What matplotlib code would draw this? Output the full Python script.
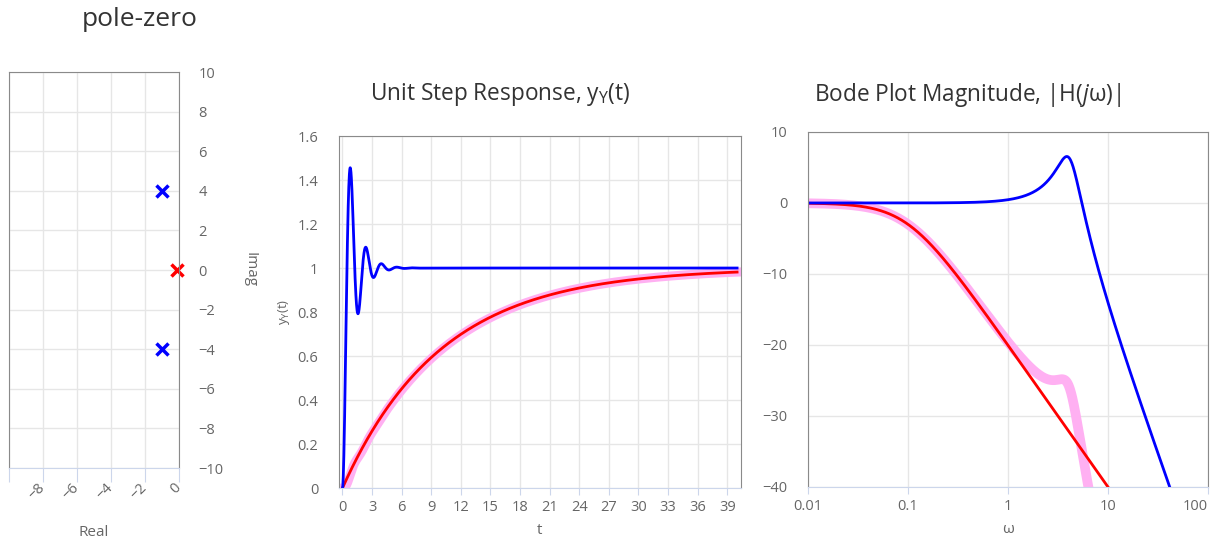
import matplotlib.pyplot as plt
import numpy as np

plt.rcParams["font.family"] = ["Open Sans", "DejaVu Sans"]
plt.rcParams["mathtext.fontset"] = "custom"
plt.rcParams["mathtext.rm"] = "Open Sans"
plt.rcParams["mathtext.it"] = "Open Sans:italic"

# poles of the two blocks (no zeros)
blue_poles = [-1 + 4j, -1 - 4j]
red_poles = [-0.1 + 0j]
pink_poles = blue_poles + red_poles  # cascade of both blocks

t_ticks = [0, 3, 6, 9, 12, 15, 18, 21, 24, 27, 30, 33, 36, 39]
step_yticks = [0, 0.2, 0.4, 0.6, 0.8, 1, 1.2, 1.4, 1.6]
step_ylabels = ["0", "0.2", "0.4", "0.6", "0.8", "1", "1.2", "1.4", "1.6"]
bode_xticks = [0.01, 0.1, 1, 10, 100]
bode_xlabels = ["0.01", "0.1", "1", "10", "100"]
bode_yticks = [-40, -30, -20, -10, 0, 10]
pz_xticks = [-10, -8, -6, -4, -2, 0]
pz_yticks = [-10, -8, -6, -4, -2, 0, 2, 4, 6, 8, 10]

BLUE = "#0000ff"
RED = "#ff0000"
PINK = "#ffb0f2"
GRID = "#e6e6e6"
LABEL = "#666666"
AXLINE = "#ccd6eb"
TITLE = "#333333"
TICK_FS = 10.5


def step_response(poles, t):
    """Unit-DC-gain all-pole system, step response by residues."""
    p = np.array(poles, dtype=complex)
    k = np.prod(-p)
    y = np.ones_like(t, dtype=complex)
    for i, pi in enumerate(p):
        others = np.delete(p, i)
        r = k / (pi * np.prod(pi - others))
        y += r * np.exp(pi * t)
    return y.real


def mag_db(poles, w):
    p = np.array(poles, dtype=complex)
    k = np.prod(-p)
    h = k / np.prod([1j * w - pi for pi in p], axis=0)
    return 20 * np.log10(np.abs(h))


def minus(v):
    return str(v).replace("-", "\u2212")


t = np.linspace(0, 40, 2000)
w = np.logspace(-2, 2, 1000)

fig = plt.figure(figsize=(12.16, 5.42), dpi=100)


def style(ax, tick_len=5):
    ax.grid(True, color=GRID, linewidth=1)
    ax.set_axisbelow(True)
    for s in ("left", "right", "top"):
        ax.spines[s].set_color("#8a8a8a")
    ax.spines["bottom"].set_color(AXLINE)
    ax.tick_params(axis="x", colors=LABEL, color=AXLINE, length=tick_len,
                   labelsize=TICK_FS)
    ax.tick_params(axis="y", colors=LABEL, length=0, labelsize=TICK_FS)


# pole-zero map
ax0 = fig.add_axes([0.0074, 0.1365, 0.1398, 0.7306])
style(ax0, tick_len=10)
ax0.plot([p.real for p in blue_poles], [p.imag for p in blue_poles], "x",
         color=BLUE, ms=9, mew=2.5)
ax0.plot([p.real for p in red_poles], [p.imag for p in red_poles], "x",
         color=RED, ms=9, mew=2.5, clip_on=False)
ax0.set_xlim(-10, 0)
ax0.set_ylim(-10, 10)
ax0.set_xticks(pz_xticks)
ax0.set_xticklabels([""] + [minus(v) for v in pz_xticks[1:]], rotation=45,
                    ha="right", va="center", rotation_mode="anchor")
ax0.tick_params(axis="x", pad=3)
ax0.set_yticks(pz_yticks)
ax0.set_yticklabels([minus(v) for v in pz_yticks])
ax0.yaxis.tick_right()
ax0.tick_params(axis="y", pad=14)
ax0.set_xlabel("Real", color=LABEL, fontsize=11, labelpad=16)
fig.text(250 / 1216, 1 - 270 / 542, "Imag", color=LABEL, fontsize=11,
         rotation=-90, ha="center", va="center")
fig.text(140 / 1216, 1 - 20 / 542, "pole-zero", fontsize=19, color=TITLE,
         ha="center", va="center")

# step response
ax1 = fig.add_axes([0.2788, 0.0996, 0.3306, 0.6494])
style(ax1)
ax1.plot(t, step_response(pink_poles, t), color=PINK, lw=6.5)
ax1.plot(t, step_response(red_poles, t), color=RED, lw=2)
ax1.plot(t, step_response(blue_poles, t), color=BLUE, lw=2)
ax1.set_xlim(-0.35, 40.4)
ax1.set_ylim(0, 1.6)
ax1.set_xticks(t_ticks)
ax1.set_yticks(step_yticks)
ax1.set_yticklabels(step_ylabels)
ax1.tick_params(axis="y", pad=15)
ax1.set_xlabel("t", color=LABEL, fontsize=11, labelpad=6)
ax1.set_ylabel(r"$\mathrm{y_Y}$(t)", color=LABEL, fontsize=9.5, labelpad=4)
fig.text(500 / 1216, 1 - 95 / 542, r"Unit Step Response, $\mathrm{y_Y}$(t)",
         fontsize=16.3, color=TITLE, ha="center", va="center")

# bode magnitude
ax2 = fig.add_axes([0.6645, 0.1015, 0.3289, 0.655])
style(ax2)
ax2.semilogx(w, mag_db(pink_poles, w), color=PINK, lw=7)
ax2.semilogx(w, mag_db(red_poles, w), color=RED, lw=2)
ax2.semilogx(w, mag_db(blue_poles, w), color=BLUE, lw=2)
ax2.set_xlim(0.01, 100)
ax2.set_ylim(-40, 10)
ax2.set_xticks(bode_xticks)
ax2.set_xticklabels(bode_xlabels)
ax2.get_xticklabels()[-1].set_horizontalalignment("right")
ax2.minorticks_off()
ax2.set_yticks(bode_yticks)
ax2.set_yticklabels([minus(v) for v in bode_yticks])
ax2.tick_params(axis="y", pad=15)
ax2.set_xlabel("\u03c9", color=LABEL, fontsize=11, labelpad=6)
fig.text(968 / 1216, 1 - 95 / 542,
         "Bode Plot Magnitude, |H($\\mathit{j}$\u03c9)|",
         fontsize=16.3, color=TITLE, ha="center", va="center")

fig.savefig("out.png", dpi=100)
